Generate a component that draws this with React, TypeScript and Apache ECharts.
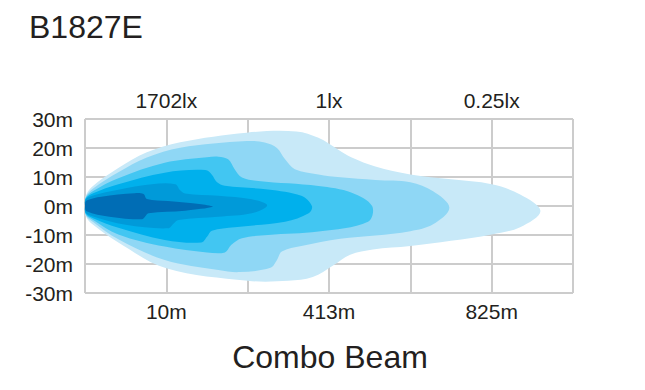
import React, { useEffect, useRef } from "react";
import * as echarts from "echarts";

// Grid positions along the beam (0..6), with labels only at some ticks
const distanceLabels = ["", "10m", "", "413m", "", "825m", ""];
const luxLabels = ["", "1702lx", "", "1lx", "", "0.25lx", ""];
const yTickStep = 10;

// Iso-lux contours: [position along beam (grid units), lateral offset (m)]
const contourOuter: [number, number][] = [
  [0, 0], [0.01, 3.5], [0.08, 6.5], [0.4, 12.9], [0.76, 18.5], [1.17, 22.0], [1.99, 25.3], [2.6, 25.7],
  [2.87, 23.5], [3.11, 19.5], [3.28, 16.7], [3.57, 13.6], [4.0, 10.9], [4.5, 9.2], [5.0, 7.5],
  [5.35, 4.0], [5.6, -1.7], [5.35, -7.3], [5.0, -9.8], [4.5, -12.0], [4.0, -13.8], [3.54, -15.0],
  [3.26, -16.8], [3.05, -20.5], [2.8, -24.5], [2.5, -25.8], [2.0, -25.8], [1.0, -21.5],
  [0.41, -12.6], [0.1, -6.5], [0.01, -3.5],
];
const contour2: [number, number][] = [
  [0, 0], [0.01, 3.2], [0.1, 6], [0.41, 11.6], [0.76, 16.7], [1.17, 20.1], [1.99, 22.4], [2.21, 21.9],
  [2.36, 20], [2.46, 16.1], [2.58, 12.7], [2.87, 10.9], [3.14, 9.9], [3.57, 9.0], [4.0, 8.2],
  [4.28, 5.1], [4.48, -0.6], [4.28, -6.3], [4.0, -8.7], [3.57, -10.2], [3.14, -11.3],
  [2.66, -13.8], [2.42, -15.7], [2.36, -18.6], [2.28, -21.3], [1.9, -22.8], [1.64, -22.1],
  [0.98, -18.6], [0.41, -11.5], [0.1, -5.5], [0.01, -3.2],
];
const contour3: [number, number][] = [
  [0, 0], [0.01, 2.9], [0.1, 5.2], [0.41, 9.6], [0.98, 14.9], [1.5, 16.8], [1.64, 17.0], [1.76, 16.1],
  [1.84, 12.7], [1.93, 9.8], [2.13, 8.6], [2.87, 6.9], [3.28, 4.6], [3.53, 0], [3.48, -5.4],
  [2.87, -8.8], [2.25, -10.0], [1.93, -11.1], [1.8, -13.4], [1.72, -16.0], [1.5, -16.0],
  [0.98, -14.0], [0.41, -9.8], [0.1, -4.8], [0.01, -2.9],
];
const contour4: [number, number][] = [
  [0, 0], [0.01, 2.6], [0.1, 4.4], [0.41, 7.5], [0.98, 11.5], [1.48, 12.4], [1.56, 10.8], [1.62, 8.3],
  [1.72, 7.0], [2.25, 5.7], [2.66, 3.5], [2.79, 0], [2.75, -2.5], [2.46, -5.4], [1.84, -7.3],
  [1.56, -8.5], [1.5, -10.6], [1.43, -12.6], [0.98, -11.7], [0.41, -7.5], [0.1, -4.2], [0.01, -2.6],
];
const contour5: [number, number][] = [
  [0, 0], [0.01, 2.3], [0.1, 3.6], [0.41, 5.6], [0.82, 7.5], [1.11, 7.5], [1.17, 5.4], [1.23, 4.3],
  [1.64, 3.5], [2.05, 2.3], [2.24, 0.2], [2.05, -2.5], [1.64, -3.7], [1.15, -4.8], [1.09, -6.0],
  [1.02, -7.7], [0.5, -6.5], [0.1, -3.6], [0.01, -2.3],
];
const contourInner: [number, number][] = [
  [0, 0.5], [0.02, 1.9], [0.2, 3.2], [0.61, 4.4], [0.72, 4.1], [0.76, 2.4], [1.02, 1.7], [1.43, 0.6],
  [1.57, -0.3], [1.23, -1.6], [0.78, -2.5], [0.74, -3.6], [0.7, -4.6], [0.3, -3.7], [0.02, -1.8],
];

const contours = [contourOuter, contour2, contour3, contour4, contour5, contourInner];
const contourColors = ["#c8e9f8", "#8fd7f5", "#42c6f2", "#00b0ec", "#009ad9", "#006db5"];

const FONT = "'Liberation Sans', Arial, Helvetica, sans-serif";
const TEXT = "#231f20";

export default function App() {
  const ref = useRef<HTMLDivElement>(null);
  useEffect(() => {
    document.body.style.margin = "0";
    if (!ref.current) return;
    const chart = echarts.init(ref.current, null, { renderer: "svg" });
    const series: any[] = contours.map((pts, i) => ({
      type: "custom",
      xAxisIndex: 0,
      yAxisIndex: 0,
      clip: false,
      silent: true,
      data: pts,
      renderItem: (params: any, api: any) => {
        if (params.dataIndex !== 0) return null;
        return {
          type: "polygon",
          shape: { points: pts.map((p) => api.coord(p)), smooth: 0.35 },
          style: { fill: contourColors[i], stroke: null },
        };
      },
    }));
    const label = (arr: string[] | null) => ({
      margin: 8,
      fontSize: 21,
      color: TEXT,
      fontFamily: FONT,
      formatter: (v: number) => (arr ? arr[Math.round(v)] ?? "" : `${v}m`),
    });
    chart.setOption({
      animation: false,
      grid: { left: 85, right: 72, top: 119, bottom: 97 },
      xAxis: [
        {
          type: "value",
          min: 0,
          max: 6,
          interval: 1,
          position: "bottom",
          axisLine: { show: false },
          axisTick: { show: false },
          splitLine: { show: true, lineStyle: { color: "#cccccc", width: 2 } },
          axisLabel: label(distanceLabels),
        },
        {
          type: "value",
          min: 0,
          max: 6,
          interval: 1,
          position: "top",
          axisLine: { show: false },
          axisTick: { show: false },
          splitLine: { show: false },
          axisLabel: label(luxLabels),
        },
      ],
      yAxis: {
        type: "value",
        min: -30,
        max: 30,
        interval: yTickStep,
        axisLine: { show: false },
        axisTick: { show: false },
        splitLine: { show: true, lineStyle: { color: "#cccccc", width: 2 } },
        axisLabel: { ...label(null), margin: 12 },
      },
      graphic: [
        {
          type: "text",
          x: 29,
          y: 27,
          style: {
            text: "B1827E",
            fontSize: 32,
            fontFamily: FONT,
            fill: TEXT,
            textAlign: "left",
            textVerticalAlign: "middle",
          },
        },
        {
          type: "text",
          x: 330,
          y: 357,
          style: {
            text: "Combo Beam",
            fontSize: 32,
            fontFamily: FONT,
            fill: TEXT,
            textAlign: "center",
            textVerticalAlign: "middle",
          },
        },
      ],
      series,
    });
    return () => chart.dispose();
  }, []);
  return <div ref={ref} style={{ width: 645, height: 390 }} />;
}
